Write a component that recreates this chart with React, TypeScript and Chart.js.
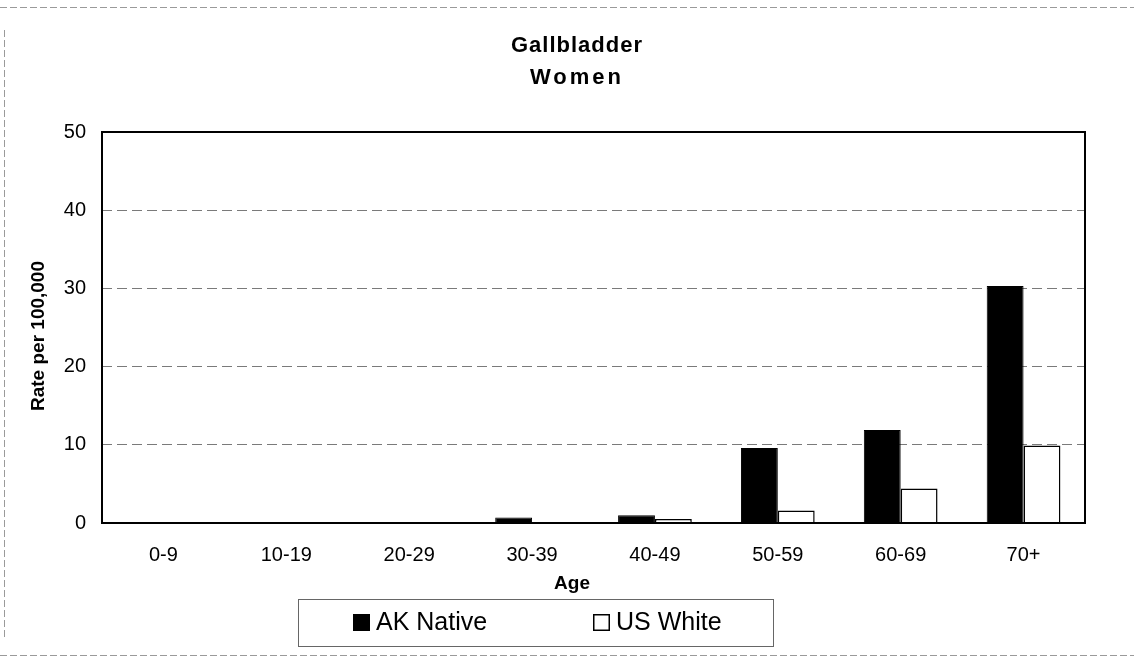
import React, { useEffect, useRef } from "react";
import { Chart, registerables } from "chart.js";

Chart.register(...registerables);

const categories = ["0-9", "10-19", "20-29", "30-39", "40-49", "50-59", "60-69", "70+"];
const akNative = [0.1, 0.1, 0.1, 0.7, 1.0, 9.6, 11.9, 30.3];
const usWhite = [0.0, 0.0, 0.0, 0.1, 0.5, 1.6, 4.4, 9.9];
const titleLines = ["Gallbladder", "Women"];
const seriesNames = ["AK Native", "US White"];
const yTitle = "Rate per 100,000";
const xTitle = "Age";

const FONT = "'Liberation Sans', Arial, sans-serif";

const decorPlugin = {
  id: "decor",
  beforeDraw(chart: any) {
    const ctx = chart.ctx;
    ctx.save();
    ctx.fillStyle = "#fff";
    ctx.fillRect(0, 0, chart.width, chart.height);
    ctx.strokeStyle = "#9a9a9a";
    ctx.lineWidth = 1;
    ctx.setLineDash([7, 3]);
    ctx.beginPath();
    ctx.moveTo(0, 7.5);
    ctx.lineTo(chart.width, 7.5);
    ctx.moveTo(4.5, 30);
    ctx.lineTo(4.5, 640);
    ctx.moveTo(0, 655.5);
    ctx.lineTo(chart.width, 655.5);
    ctx.stroke();
    ctx.setLineDash([]);
    ctx.fillStyle = "#000";
    ctx.font = `bold 22px ${FONT}`;
    ctx.textAlign = "center";
    ctx.textBaseline = "middle";
    (ctx as any).letterSpacing = "1px";
    ctx.fillText(titleLines[0], 577, 46);
    (ctx as any).letterSpacing = "3px";
    ctx.fillText(titleLines[1], 577, 78);
    (ctx as any).letterSpacing = "0px";
    // axis titles
    ctx.font = `bold 19px ${FONT}`;
    ctx.fillText(xTitle, 572, 584);
    ctx.save();
    ctx.translate(39, 336);
    ctx.rotate(-Math.PI / 2);
    ctx.fillText(yTitle, 0, 0);
    ctx.restore();
    ctx.restore();
  },
  afterDraw(chart: any) {
    const ctx = chart.ctx;
    const a = chart.chartArea;
    ctx.save();
    ctx.strokeStyle = "#000";
    ctx.lineWidth = 2;
    ctx.strokeRect(a.left, a.top, a.right - a.left, a.bottom - a.top);
    ctx.strokeStyle = "#666";
    ctx.lineWidth = 1;
    ctx.strokeRect(298.5, 599.5, 475, 47);
    const items = [
      { x: 353, fill: "#000", label: seriesNames[0] },
      { x: 593, fill: "#fff", label: seriesNames[1] },
    ];
    ctx.font = `25px ${FONT}`;
    ctx.textBaseline = "middle";
    ctx.textAlign = "left";
    for (const it of items) {
      ctx.fillStyle = it.fill;
      ctx.fillRect(it.x, 614, 17, 17);
      ctx.strokeStyle = "#000";
      ctx.lineWidth = 1.5;
      ctx.strokeRect(it.x + 0.75, 614.75, 15.5, 15.5);
      ctx.fillStyle = "#000";
      ctx.fillText(it.label, it.x + 23, 623);
    }
    ctx.restore();
  },
};

export default function App() {
  const ref = useRef<HTMLCanvasElement | null>(null);
  useEffect(() => {
    document.body.style.margin = "0";
    const canvas = ref.current;
    if (!canvas) return;
    const chart = new Chart(canvas, {
      type: "bar",
      data: {
        labels: categories,
        datasets: [
          {
            label: seriesNames[0],
            data: akNative,
            backgroundColor: "#000",
            borderColor: "#000",
            borderWidth: 1,
          },
          {
            label: seriesNames[1],
            data: usWhite,
            backgroundColor: "#fff",
            borderColor: "#000",
            borderWidth: 1.5,
          },
        ],
      },
      options: {
        responsive: false,
        animation: false,
        devicePixelRatio: 1,
        layout: { padding: { left: 0, right: 49, top: 132, bottom: 60 } },
        datasets: { bar: { categoryPercentage: 0.6, barPercentage: 1.0 } },
        plugins: {
          legend: { display: false },
          title: { display: false },
          tooltip: { enabled: false },
        },
        scales: {
          x: {
            grid: { display: false, drawTicks: false },
            border: { display: false },
            ticks: { color: "#000", font: { family: FONT, size: 20 }, padding: 20, maxRotation: 0 },
            afterFit(scale: any) {
              scale.height = 75;
            },
          },
          y: {
            min: 0,
            max: 50,
            ticks: { stepSize: 10, color: "#000", font: { family: FONT, size: 20 }, padding: 16 },
            grid: {
              color: (c: any) => (c.tick && c.tick.value === 0 ? "rgba(0,0,0,0)" : "#7a7a7a"),
              lineWidth: 1,
              drawTicks: false,
            },
            border: { display: false, dash: [10, 5] },
            afterFit(scale: any) {
              scale.width = 102;
            },
          },
        },
      },
      plugins: [decorPlugin],
    } as any);
    return () => chart.destroy();
  }, []);
  return (
    <div style={{ width: 1134, height: 658, margin: 0 }}>
      <canvas ref={ref} width={1134} height={658} style={{ display: "block" }} />
    </div>
  );
}
